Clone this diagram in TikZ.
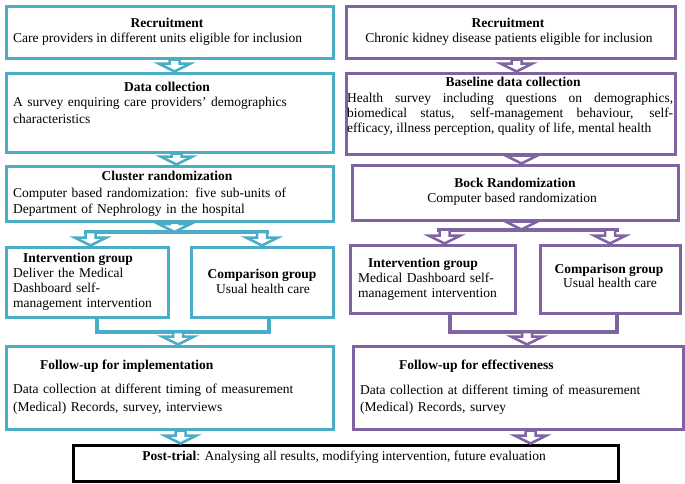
\documentclass[tikz,border=0pt]{standalone}
\usepackage{fontspec}
\setmainfont{Liberation Serif}
\usetikzlibrary{calc}
\definecolor{lblue}{HTML}{4BACC6}
\definecolor{lpurple}{HTML}{8064A2}
\tikzset{
  box/.style={draw=#1, line width=3pt, inner sep=0pt, anchor=north west},
  hd/.style={font={\fontsize{13.5pt}{16pt}\selectfont\bfseries}, inner sep=0pt, anchor=base},
  bd/.style={font={\fontsize{13.5pt}{16pt}\selectfont}, inner sep=0pt, anchor=base},
  para/.style={font={\fontsize{13.5pt}{#1pt}\selectfont}, inner sep=0pt, anchor=base west, text width=320pt, align=left},
  link/.style={draw=#1, line width=4pt},
  blockarr/.style={draw=#1, fill=white, line width=2.5pt, line join=miter},
}
\newcommand{\flowarrow}[3]{%
  \draw[blockarr=#1] let \p1=(#2), \p2=(#3) in
    (\x1-5pt,\y1) -- (\x1-5pt,\y2+8pt) -- (\x1-16pt,\y2+8pt) -- (\x1,\y2)
    -- (\x1+16pt,\y2+8pt) -- (\x1+5pt,\y2+8pt) -- (\x1+5pt,\y1) -- cycle;}
\begin{document}
\begin{tikzpicture}[x=1pt, y=-1pt]
\useasboundingbox (0,0) rectangle (685,483);
% left column
\node[box=lblue, minimum width=327pt, minimum height=52pt] (rec1) at (4.5,4.5) {};
\node[box=lblue, minimum width=327pt, minimum height=79pt] (dat1) at (4.5,71.5) {};
\node[box=lblue, minimum width=327pt, minimum height=55pt] (clu1) at (4.5,164.5) {};
\node[box=lblue, minimum width=162pt, minimum height=70pt] (int1) at (4.5,245.5) {};
\node[box=lblue, minimum width=142pt, minimum height=70pt] (com1) at (189.5,245.5) {};
\node[box=lblue, minimum width=327pt, minimum height=83pt] (fol1) at (4.5,344.5) {};
% right column
\node[box=lpurple, minimum width=329pt, minimum height=52pt] (rec2) at (344.5,4.5) {};
\node[box=lpurple, minimum width=329pt, minimum height=81pt] (bas2) at (344.5,71.5) {};
\node[box=lpurple, minimum width=326pt, minimum height=55pt] (blk2) at (350.5,163.5) {};
\node[box=lpurple, minimum width=165pt, minimum height=68pt] (int2) at (348.5,243.5) {};
\node[box=lpurple, minimum width=140pt, minimum height=68pt] (com2) at (538.5,243.5) {};
\node[box=lpurple, minimum width=330pt, minimum height=83pt] (fol2) at (351.5,344.5) {};
\node[box=black, minimum width=545pt, minimum height=36pt] (post) at (71.5,443.5) {};

\coordinate (s1) at (173,232);
\coordinate (j1) at (178,332);
\coordinate (s2) at (520,229.5);
\coordinate (j2) at (527,332);

\draw[link=lblue] ($(int1.north |- s1)+(-3.5,0)$) -- ($(com1.north |- s1)+(6.5,0)$);
\draw[link=lblue] ($(int1.south)+(9.5,0)$) |- (j1) -| ($(com1.south)+(6.5,0)$);
\draw[link=lpurple] ($(int2.north |- s2)+(4,0)$) -- ($(com2.north |- s2)+(8.5,0)$);
\draw[link=lpurple] ($(int2.south)+(17,0)$) |- (j2) -| ($(com2.south)+(6.5,0)$);

\flowarrow{lblue}{$(rec1.south)+(5,0)$}{dat1.north}
\flowarrow{lblue}{$(dat1.south)+(7,0)$}{clu1.north}
\flowarrow{lblue}{$(clu1.south)+(5,0)$}{s1}
\flowarrow{lblue}{$(int1.north |- s1)+(3.5,0)$}{int1.north}
\flowarrow{lblue}{com1.north |- s1}{com1.north}
\flowarrow{lblue}{j1}{fol1.north}
\flowarrow{lblue}{$(fol1.south)+(11,0)$}{post.north}
\flowarrow{lpurple}{$(rec2.south)+(6,0)$}{bas2.north}
\flowarrow{lpurple}{$(bas2.south)+(11,0)$}{blk2.north}
\flowarrow{lpurple}{$(blk2.south)+(6.5,0)$}{s2}
\flowarrow{lpurple}{$(int2.north |- s2)+(12,0)$}{int2.north}
\flowarrow{lpurple}{com2.north |- s2}{com2.north}
\flowarrow{lpurple}{j2}{fol2.north}
\flowarrow{lpurple}{$(fol2.south)+(12.5,0)$}{post.north}

% texts
\node[hd] (rec1h) at (167,27) {Recruitment};
\node[bd, anchor=base west] (rec1t) at (13,42) {Care providers in different units eligible for inclusion};
\node[hd] (dat1h) at (167,91) {Data collection};
\node[para=17] (dat1t) at (13,106) {A survey enquiring care providers' demographics\\ characteristics};
\node[hd] (clu1h) at (167,180) {Cluster randomization};
\node[para=16] (clu1t) at (13,197) {Computer based randomization: five sub-units of\\ Department of Nephrology in the hospital};
\node[hd, anchor=base west] (int1h) at (23,262) {Intervention group};
\node[para=15] (int1t) at (13,277) {Deliver the Medical\\ Dashboard self-\\ management intervention};
\node[hd] (com1h) at (262,278) {Comparison group};
\node[bd] (com1t) at (263,293) {Usual health care};
\node[hd, anchor=base west] (fol1h) at (40,369) {Follow-up for implementation};
\node[para=18] (fol1t) at (13,393) {Data collection at different timing of measurement\\ (Medical) Records, survey, interviews};

\node[hd] (rec2h) at (508,27) {Recruitment};
\node[bd] (rec2t) at (509,42) {Chronic kidney disease patients eligible for inclusion};
\node[hd] (bas2h) at (513,86) {Baseline data collection};
\node[para=15, text width=326pt, align=justify] (bas2t) at (347,102) {Health survey including questions on demographics,\linebreak biomedical status, self-management behaviour, self-\linebreak efficacy, illness perception, quality of life, mental health};
\node[hd] (blk2h) at (515,187) {Bock Randomization};
\node[bd] (blk2t) at (512,202) {Computer based randomization};
\node[hd] (int2h) at (423,267) {Intervention group};
\node[para=15] (int2t) at (358,282) {Medical Dashboard self-\\ management intervention};
\node[hd] (com2h) at (609,273) {Comparison group};
\node[bd] (com2t) at (610,287) {Usual health care};
\node[hd, anchor=base west] (fol2h) at (399,369) {Follow-up for effectiveness};
\node[para=17] (fol2t) at (360,394) {Data collection at different timing of measurement\\ (Medical) Records, survey};
\node[bd] (postt) at (344,460) {\textbf{Post-trial}: Analysing all results, modifying intervention, future evaluation};
\end{tikzpicture}
\end{document}
